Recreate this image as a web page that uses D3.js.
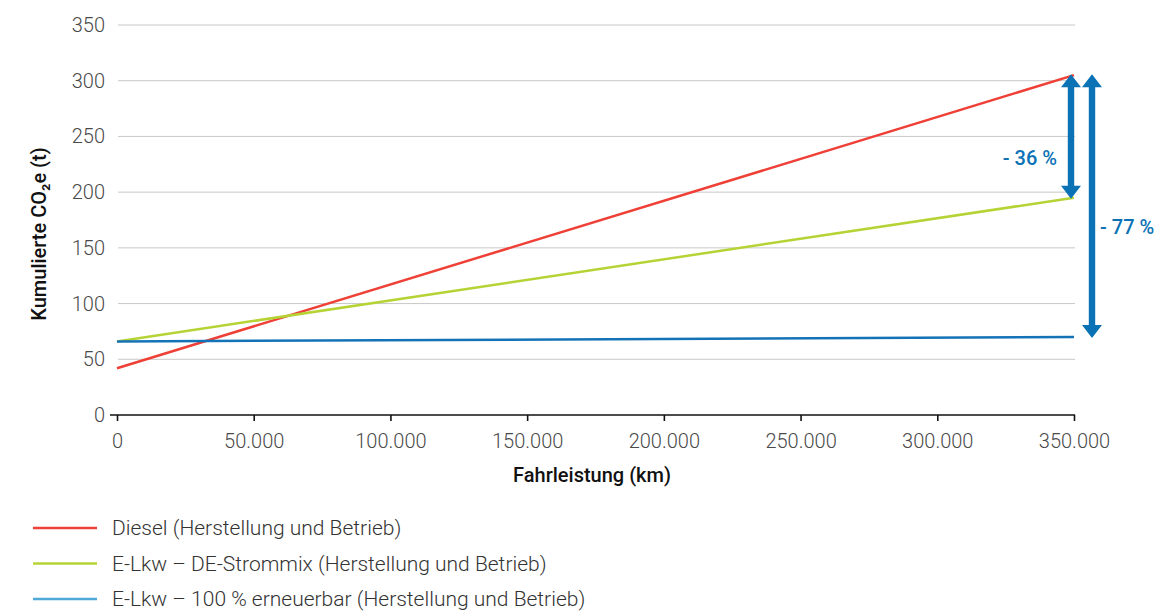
<!DOCTYPE html>
<html><head><meta charset="utf-8">
<script src="https://cdn.jsdelivr.net/npm/d3@7"></script>
<style>
body{margin:0;background:#fff;}
svg{font-family:Roboto,"Noto Sans",sans-serif;}
</style></head><body>
<svg id="c" width="1166" height="611"></svg>
<script>
const km = [0, 350000];
const diesel = [42, 305];
const strommix = [66, 195];
const erneuerbar = [66, 70];
const yTicks = [0, 50, 100, 150, 200, 250, 300, 350];
const xTicks = [0, 50000, 100000, 150000, 200000, 250000, 300000, 350000];
const seriesNames = ["Diesel (Herstellung und Betrieb)", "E-Lkw \u2013 DE-Strommix (Herstellung und Betrieb)", "E-Lkw \u2013 100 % erneuerbar (Herstellung und Betrieb)"];
const seriesColors = ["#ee4036", "#b6d335", "#1473b6"];
const legendColors = ["#ee4036", "#b6d335", "#4ea9d9"];
const annotations = [{from: 0, to: 1, label: "- 36 %"}, {from: 0, to: 2, label: "- 77 %"}];

const series = [diesel, strommix, erneuerbar];
const svg = d3.select("#c");
const x = d3.scaleLinear().domain([0, 350000]).range([117, 1074]);
const y = d3.scaleLinear().domain([0, 350]).range([415, 25]);
const fmt = v => d3.format(",")(v).replace(/,/g, ".");

// gridlines
svg.append("g").selectAll("line").data(yTicks.filter(d => d > 0)).join("line")
  .attr("x1", 118).attr("x2", 1075).attr("y1", d => y(d)).attr("y2", d => y(d))
  .attr("stroke", "#c8c8c8").attr("stroke-width", 1);

// y tick labels
svg.append("g").selectAll("text").data(yTicks).join("text")
  .attr("x", 105).attr("y", d => y(d)).attr("dy", "0.35em")
  .attr("text-anchor", "end").attr("font-size", 20).attr("fill", "#4a4a4a").attr("font-weight", 300)
  .text(d => d);

// x axis
const xAxis = d3.axisBottom(x).tickValues(xTicks).tickSize(6).tickFormat(fmt).tickSizeOuter(0);
const gx = svg.append("g").attr("transform", "translate(0,415)").call(xAxis);
gx.select(".domain").remove();
gx.append("line").attr("x1", 110).attr("x2", 1075).attr("stroke", "#111").attr("stroke-width", 1.6);
gx.selectAll(".tick line").attr("stroke", "#111").attr("stroke-width", 1.6);
gx.selectAll(".tick text").attr("font-size", 20).attr("fill", "#4a4a4a").attr("font-weight", 300)
  .attr("y", 19).attr("font-family", "Roboto, sans-serif");

// series lines
const line = d3.line().x((d, i) => x(km[i])).y(d => y(d));
series.forEach((s, i) => {
  svg.append("path").attr("d", line(s)).attr("fill", "none")
    .attr("stroke", seriesColors[i]).attr("stroke-width", 2.5);
});

// arrows
const arrowColor = "#0b72b5";
function dblArrow(cx, y1, y2) {
  const hw = 10, hl = 13, sw = 3.2;
  return `M${cx},${y1} L${cx+hw},${y1+hl} L${cx+sw},${y1+hl} L${cx+sw},${y2-hl} L${cx+hw},${y2-hl} L${cx},${y2} L${cx-hw},${y2-hl} L${cx-sw},${y2-hl} L${cx-sw},${y1+hl} L${cx-hw},${y1+hl} Z`;
}
const arrowX = [1071, 1092];
annotations.forEach((a, i) => {
  const yTop = y(series[a.from][1]) - 1, yBot = y(series[a.to][1]) + 1;
  svg.append("path").attr("d", dblArrow(arrowX[i], yTop, yBot)).attr("fill", arrowColor);
});
svg.append("text").attr("x", 1057).attr("y", (y(diesel[1]) + y(strommix[1])) / 2 + 29)
  .attr("text-anchor", "end").attr("font-size", 20).attr("font-weight", 500).attr("fill", arrowColor)
  .text(annotations[0].label);
svg.append("text").attr("x", 1100).attr("y", (y(diesel[1]) + y(erneuerbar[1])) / 2 + 28)
  .attr("text-anchor", "start").attr("font-size", 20).attr("font-weight", 500).attr("fill", arrowColor)
  .text(annotations[1].label);

// axis titles
svg.append("text").attr("transform", "translate(46,234) rotate(-90)").attr("text-anchor", "middle")
  .attr("font-size", 20).attr("font-weight", 500).attr("fill", "#111")
  .text("Kumulierte CO\u2082e (t)");
svg.append("text").attr("x", 592).attr("y", 482).attr("text-anchor", "middle")
  .attr("font-size", 20).attr("font-weight", 500).attr("fill", "#111")
  .text("Fahrleistung (km)");

// legend
const lg = svg.append("g");
seriesNames.forEach((n, i) => {
  const ly = 528 + i * 35.5;
  lg.append("line").attr("x1", 33).attr("x2", 97).attr("y1", ly).attr("y2", ly)
    .attr("stroke", legendColors[i]).attr("stroke-width", 2.5);
  lg.append("text").attr("x", 112).attr("y", ly).attr("dy", "0.35em")
    .attr("font-size", 21).attr("font-weight", 300).attr("fill", "#333").text(n);
});
</script>
</body></html>
